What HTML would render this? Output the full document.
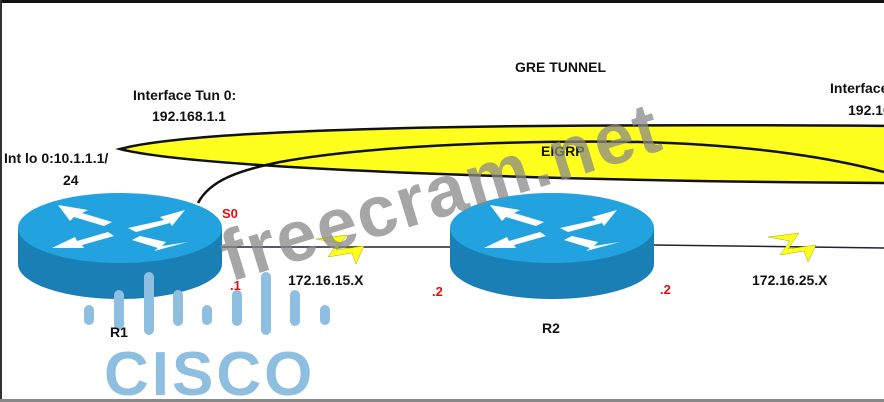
<!DOCTYPE html>
<html><head><meta charset="utf-8"><style>
html,body{margin:0;padding:0;background:#fff;}
svg{display:block;}
text{font-family:"Liberation Sans",sans-serif;font-weight:bold;}
</style></head><body>
<svg width="884" height="402" viewBox="0 0 884 402" xmlns="http://www.w3.org/2000/svg">
<rect x="0" y="0" width="884" height="402" fill="#fff"/>
<rect x="0" y="0" width="884" height="3" fill="#111"/>
<rect x="0" y="0" width="2" height="402" fill="#333"/>
<rect x="0" y="399" width="884" height="3" fill="#888"/>
<!-- tunnel -->
<path d="M120,149 C200,128 500,123 900,126 L900,183 C600,182 200,170 120,149 Z" fill="#ffff1e" stroke="#111" stroke-width="2.5"/>
<path d="M198,203 C210,180 240,170 280,162 C360,147 500,140 640,142 C760,145 840,160 884,172" fill="none" stroke="#111" stroke-width="2.5"/>
<!-- serial links -->
<line x1="210" y1="247" x2="455" y2="247" stroke="#223" stroke-width="1.5"/>
<path d="M316,239 L347,235 L336,250 L364,246 L356,264 L352,253 L328,257 L338,243 Z" fill="#ffff1e" stroke="#aa0" stroke-width="0.5"/>
<line x1="653" y1="245" x2="884" y2="248" stroke="#223" stroke-width="1.5"/>
<path d="M768,237 L799,233 L788,249 L816,245 L808,262 L804,251 L780,255 L790,241 Z" fill="#ffff1e" stroke="#aa0" stroke-width="0.5"/>
<!-- routers -->
<g id="r1">
<path d="M18,228 L18,264 A102,35 0 0 0 222,264 L222,228 Z" fill="#1a7fb5"/>
<ellipse cx="120" cy="228" rx="102" ry="35" fill="#22a3e0"/>
<g fill="#fff">
<path d="M58,205 L88,210 L82,213 L112,222 L104,226 L74,217 L70,221 Z"/>
<path d="M185,210 L160,217 L164,220 L128,228 L136,232 L170,223 L172,226 Z" />
<path d="M52,248 L75,237 L77,241 L108,232 L114,236 L82,245 L84,248 Z"/>
<path d="M188,242 L162,246 L166,242 L140,236 L132,240 L158,248 L154,251 Z"/>
</g>
</g>
<use href="#r1" transform="translate(432,0)"/>
<!-- cisco logo -->
<g fill="#8fbfe0">
<rect x="84" y="305" width="10" height="20" rx="5"/>
<rect x="114" y="290" width="10" height="40" rx="5"/>
<rect x="144" y="272" width="10" height="63" rx="5"/>
<rect x="173" y="290" width="10" height="36" rx="5"/>
<rect x="202" y="305" width="10" height="20" rx="5"/>
<rect x="232" y="290" width="10" height="36" rx="5"/>
<rect x="261" y="272" width="10" height="63" rx="5"/>
<rect x="290" y="290" width="10" height="36" rx="5"/>
<rect x="320" y="305" width="10" height="20" rx="5"/>
</g>
<text x="104" y="395" font-size="62" fill="#8fbfe0" letter-spacing="3">CISCO</text>
<!-- labels -->
<g font-size="14" fill="#111">
<text x="133" y="100">Interface Tun 0:</text>
<text x="152" y="121">192.168.1.1</text>
<text x="4" y="163">Int lo 0:10.1.1.1/</text>
<text x="63" y="185">24</text>
<text x="288" y="285">172.16.15.X</text>
<text x="752" y="285">172.16.25.X</text>
<text x="110" y="337">R1</text>
<text x="542" y="333">R2</text>
<text x="515" y="72">GRE TUNNEL</text>
<text x="541" y="156">EIGRP</text>
<text x="830" y="93">Interface</text>
<text x="848" y="115">192.168</text>
</g>
<g font-size="13" fill="#e01010">
<text x="222" y="218">S0</text>
<text x="230" y="290">.1</text>
<text x="432" y="296">.2</text>
<text x="660" y="294">.2</text>
</g>
<text x="0" y="0" font-size="72" fill="#888" fill-opacity="0.75" letter-spacing="2" transform="translate(230,282) rotate(-17)">freecram.net</text>
</svg>
</body></html>
